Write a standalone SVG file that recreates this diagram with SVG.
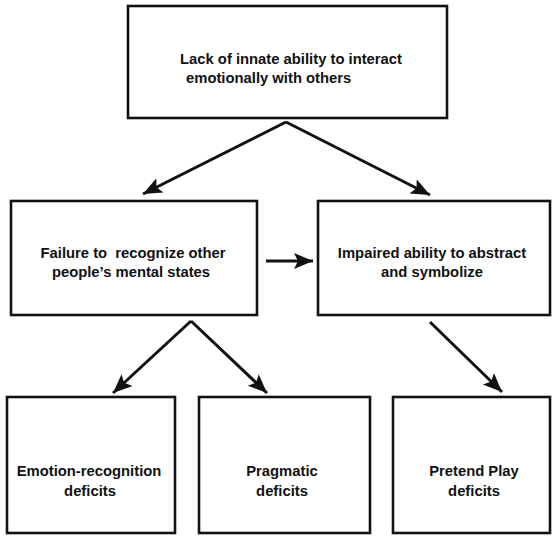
<svg xmlns="http://www.w3.org/2000/svg" width="552" height="536" viewBox="0 0 552 536">
<style>
.box{fill:#fff;stroke:#111;stroke-width:2.6}
.t{font-family:"Liberation Sans",Arial,sans-serif;font-weight:bold;font-size:14.8px;fill:#111}
.c{text-anchor:middle}
.con{stroke:#111;stroke-width:3;fill:none}
</style>
<defs>
<marker id="ah" markerUnits="userSpaceOnUse" markerWidth="22" markerHeight="18" refX="19" refY="8" orient="auto">
<path d="M0,0 L19,8 L0,16 L4,8 z" fill="#111"/>
</marker>
</defs>
<rect width="552" height="536" fill="#fff"/>
<g id="connectors">
<line class="con" x1="286" y1="122" x2="143" y2="194" marker-end="url(#ah)"/>
<line class="con" x1="286" y1="122" x2="430" y2="195" marker-end="url(#ah)"/>
<line class="con" x1="266" y1="261" x2="313" y2="261" marker-end="url(#ah)"/>
<line class="con" x1="191" y1="321" x2="113" y2="393" marker-end="url(#ah)"/>
<line class="con" x1="191" y1="321" x2="267" y2="393" marker-end="url(#ah)"/>
<line class="con" x1="430" y1="322" x2="502" y2="392" marker-end="url(#ah)"/>
</g>
<g id="n-lack">
<rect class="box" x="128" y="6" width="319" height="112"/>
<text class="t" x="180" y="64">Lack of innate ability to interact</text>
<text class="t" x="186" y="83">emotionally with others</text>
</g>
<g id="n-failure">
<rect class="box" x="11" y="201" width="246" height="114"/>
<text class="t c" x="133" y="258" xml:space="preserve">Failure to  recognize other</text>
<text class="t c" x="131" y="277">people’s mental states</text>
</g>
<g id="n-impaired">
<rect class="box" x="318" y="201" width="232" height="114"/>
<text class="t c" x="432" y="258">Impaired ability to abstract</text>
<text class="t c" x="432" y="277">and symbolize</text>
</g>
<g id="n-emotion">
<rect class="box" x="7" y="397" width="168" height="136"/>
<text class="t c" x="89" y="476">Emotion-recognition</text>
<text class="t c" x="90" y="496">deficits</text>
</g>
<g id="n-pragmatic">
<rect class="box" x="199" y="397" width="171" height="136"/>
<text class="t c" x="282" y="476">Pragmatic</text>
<text class="t c" x="282" y="496">deficits</text>
</g>
<g id="n-pretend">
<rect class="box" x="393" y="397" width="157" height="136"/>
<text class="t c" x="474" y="476">Pretend Play</text>
<text class="t c" x="474" y="496">deficits</text>
</g>
</svg>
